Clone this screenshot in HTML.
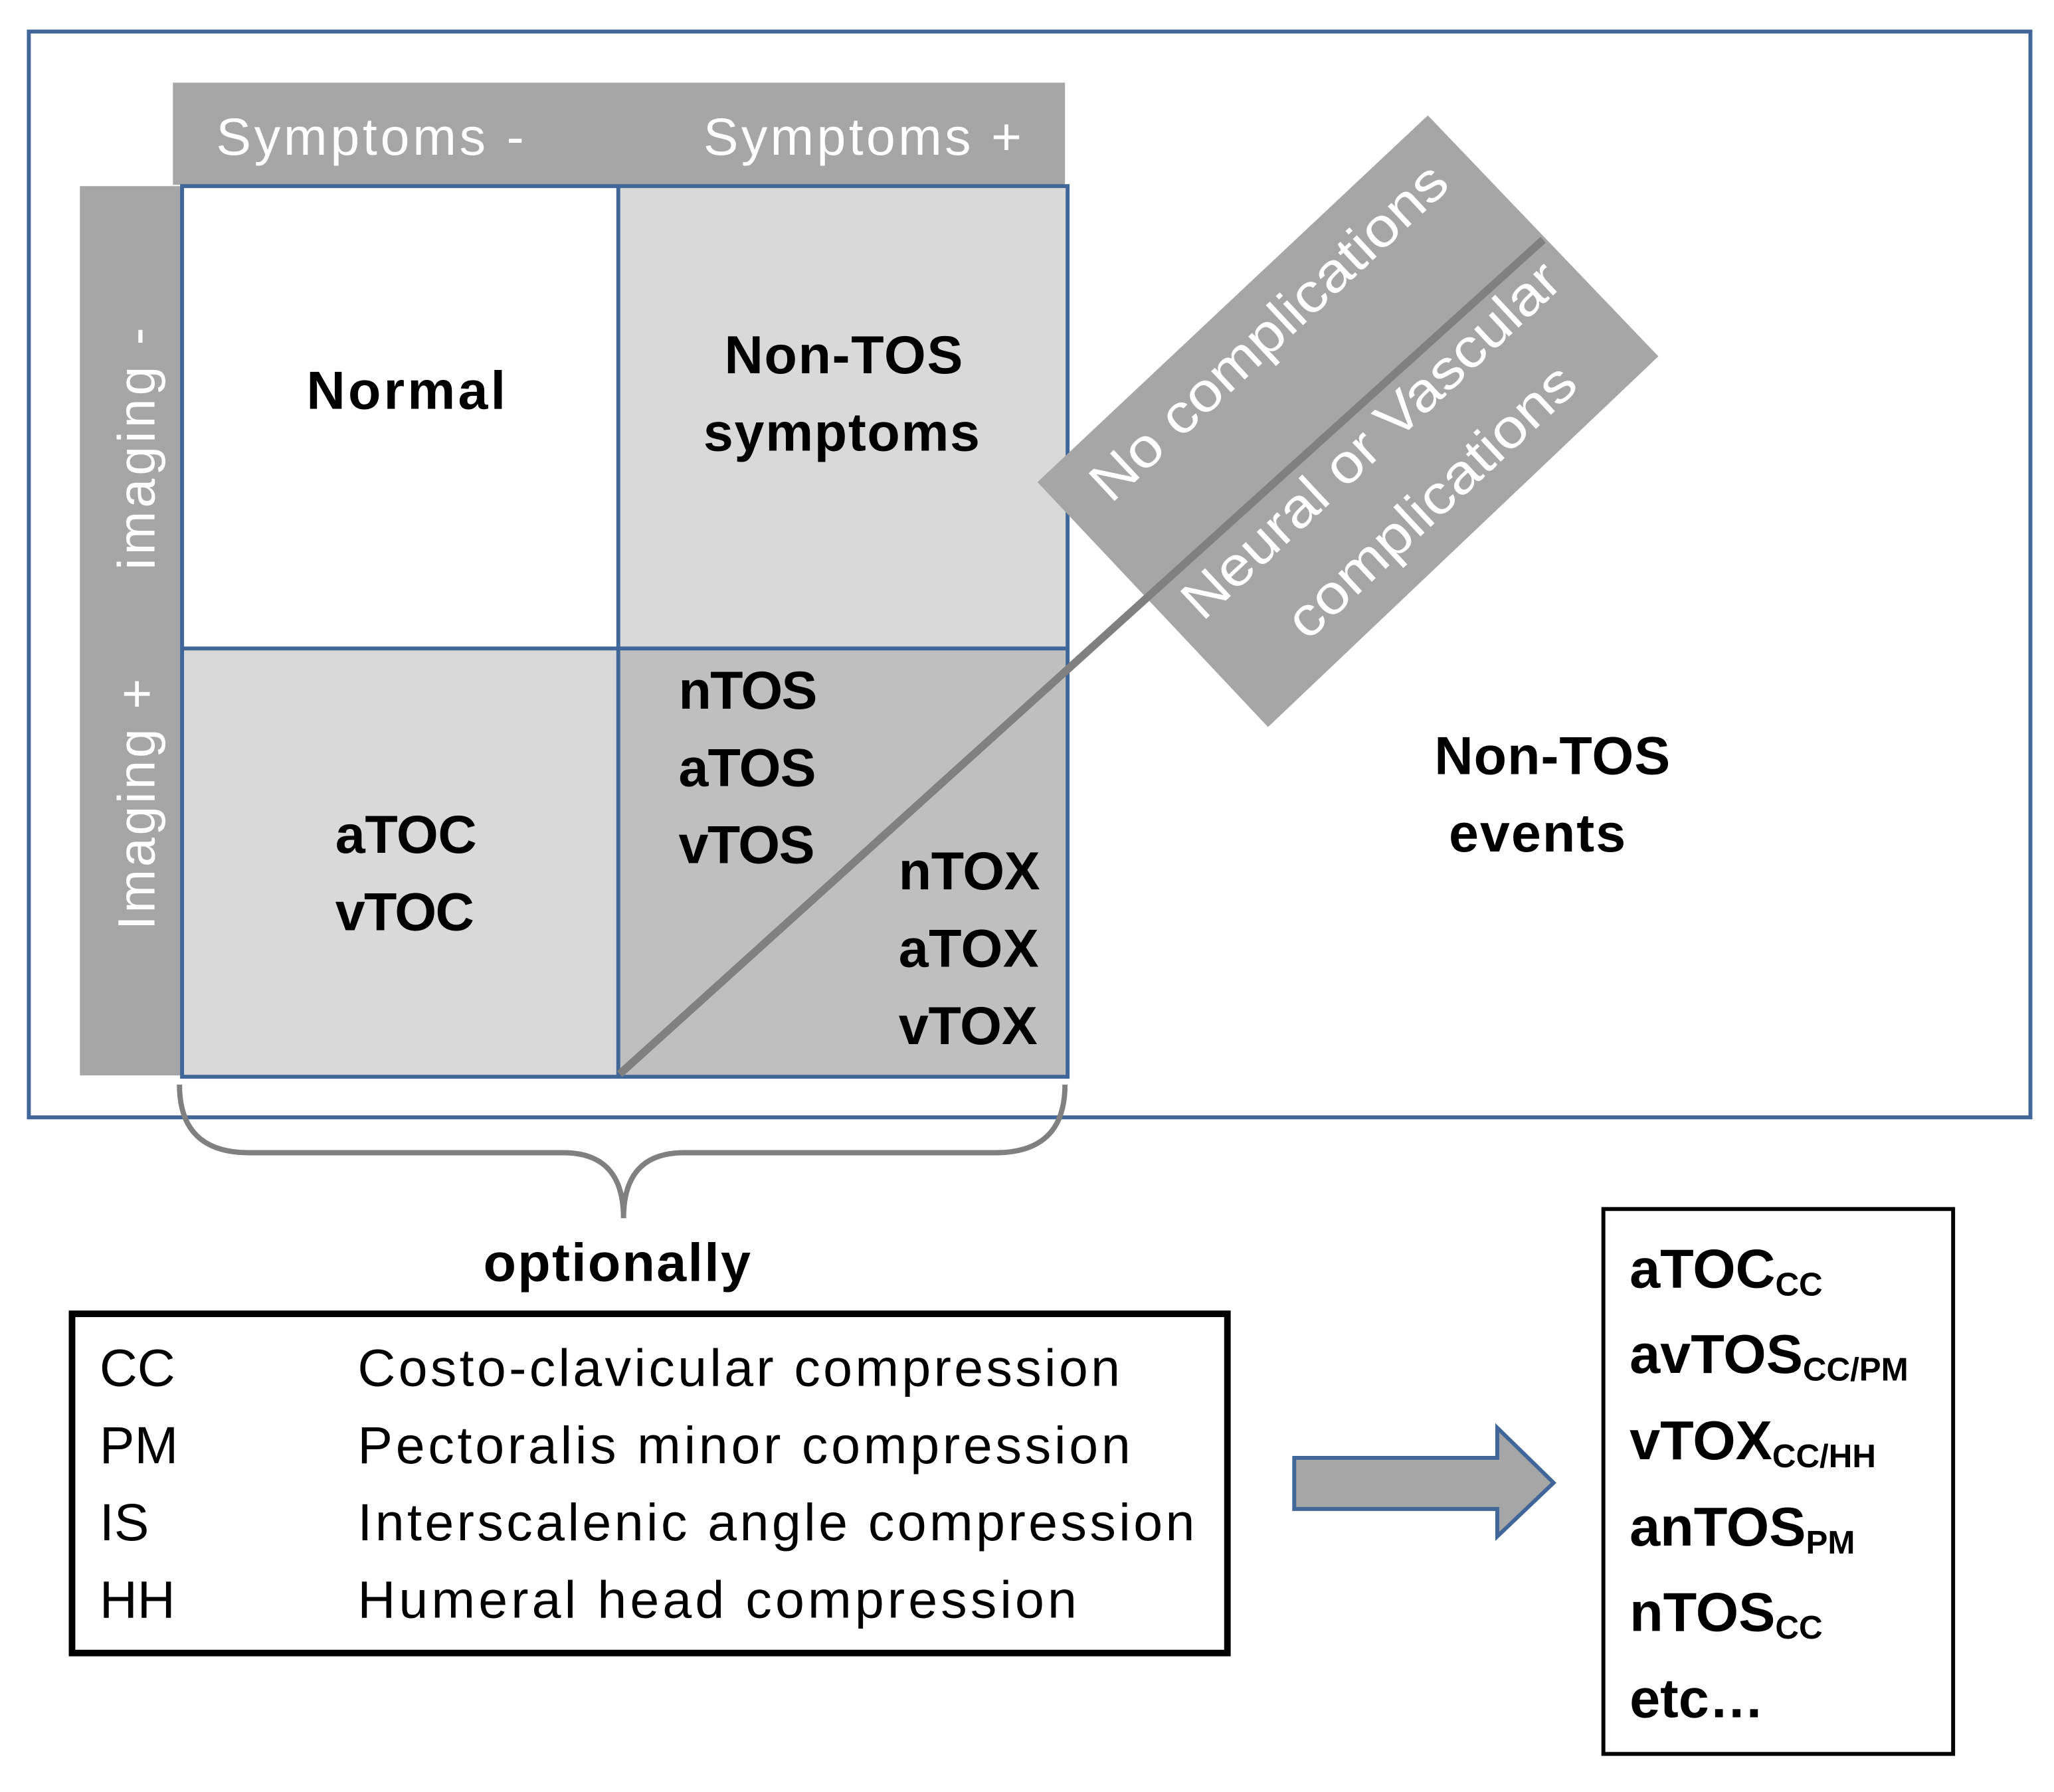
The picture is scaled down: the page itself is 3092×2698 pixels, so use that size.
<!DOCTYPE html>
<html><head><meta charset="utf-8"><style>
html,body{margin:0;padding:0;background:#fff;}
svg{display:block;}
text{font-family:"Liberation Sans",sans-serif;}
</style></head><body>
<svg width="3092" height="2698" viewBox="0 0 1568 1368" xmlns="http://www.w3.org/2000/svg">
<rect x="0" y="0" width="1568" height="1368" fill="#fff"/>
<rect x="22" y="24" width="1528" height="829" fill="none" stroke="#41679a" stroke-width="3"/>
<rect x="132" y="63" width="681" height="78" fill="#a6a6a6"/>
<text x="165" y="118" font-size="40" fill="#fff" textLength="235">Symptoms -</text>
<text x="537" y="118" font-size="40" fill="#fff" textLength="243">Symptoms +</text>
<rect x="61" y="142" width="77" height="679" fill="#a6a6a6"/>
<text transform="translate(118,435) rotate(-90)" font-size="40" fill="#fff" textLength="185">imaging -</text>
<text transform="translate(118,710) rotate(-90)" font-size="40" fill="#fff" textLength="192">Imaging +</text>
<rect x="139" y="142" width="333" height="353" fill="#fff"/>
<rect x="472" y="142" width="343" height="353" fill="#d9d9d9"/>
<rect x="139" y="495" width="333" height="327" fill="#d9d9d9"/>
<rect x="472" y="495" width="343" height="327" fill="#bfbfbf"/>
<g stroke="#41679a" stroke-width="3" fill="none">
<rect x="139" y="142" width="676" height="680"/>
<line x1="472" y1="142" x2="472" y2="822"/>
<line x1="139" y1="495" x2="815" y2="495"/>
</g>
<polygon points="792,368 1090,88 1266,272 968,555" fill="#a6a6a6"/>
<line x1="473" y1="820" x2="1178" y2="183" stroke="#808080" stroke-width="6"/>
<text transform="translate(848,385) rotate(-43)" font-size="42" fill="#fff" textLength="356" lengthAdjust="spacingAndGlyphs">No complications</text>
<text transform="translate(918,475) rotate(-43)" font-size="42" fill="#fff" textLength="378" lengthAdjust="spacingAndGlyphs">Neural or Vascular</text>
<text transform="translate(998,490) rotate(-43)" font-size="42" fill="#fff" textLength="285" lengthAdjust="spacingAndGlyphs">complications</text>
<g font-weight="bold" font-size="41" fill="#000">
<text x="234" y="312" textLength="152">Normal</text>
<text x="553" y="285" textLength="182">Non-TOS</text>
<text x="537" y="344" textLength="211">symptoms</text>
<text x="256" y="651" textLength="108">aTOC</text>
<text x="256" y="710" textLength="106">vTOC</text>
<text x="518" y="541" textLength="106">nTOS</text>
<text x="518" y="600" textLength="105">aTOS</text>
<text x="518" y="659" textLength="104">vTOS</text>
<text x="686" y="679" textLength="108">nTOX</text>
<text x="686" y="738" textLength="107">aTOX</text>
<text x="686" y="797" textLength="106">vTOX</text>
<text x="1095" y="591" textLength="180">Non-TOS</text>
<text x="1106" y="650" textLength="135">events</text>
<text x="369" y="978" textLength="204">optionally</text>
</g>
<path d="M137,828 Q137,880 190,880 L430,880 Q476,880 476,930 Q476,880 522,880 L760,880 Q813,880 813,828" fill="none" stroke="#808080" stroke-width="4"/>
<rect x="55" y="1003" width="882" height="259" fill="none" stroke="#000" stroke-width="5"/>
<g font-size="40" fill="#000">
<text x="76" y="1058">CC</text><text x="273" y="1058" textLength="582">Costo-clavicular compression</text>
<text x="76" y="1117">PM</text><text x="273" y="1117" textLength="590">Pectoralis minor compression</text>
<text x="76" y="1176">IS</text><text x="273" y="1176" textLength="639">Interscalenic angle compression</text>
<text x="76" y="1235">HH</text><text x="273" y="1235" textLength="549">Humeral head compression</text>
</g>
<polygon points="988,1113 1143,1113 1143,1090 1186,1132 1143,1173 1143,1152 988,1152" fill="#a6a6a6" stroke="#41679a" stroke-width="3"/>
<rect x="1224" y="923" width="267" height="416" fill="none" stroke="#000" stroke-width="3"/>
<g font-weight="bold" font-size="42" fill="#000">
<text x="1244" y="983">aTOC<tspan font-size="25" dy="6">CC</tspan></text>
<text x="1244" y="1048">avTOS<tspan font-size="25" dy="6">CC/PM</tspan></text>
<text x="1244" y="1114">vTOX<tspan font-size="25" dy="6">CC/HH</tspan></text>
<text x="1244" y="1180">anTOS<tspan font-size="25" dy="6">PM</tspan></text>
<text x="1244" y="1245">nTOS<tspan font-size="25" dy="6">CC</tspan></text>
<text x="1244" y="1311">etc…</text>
</g>
</svg>
</body></html>
